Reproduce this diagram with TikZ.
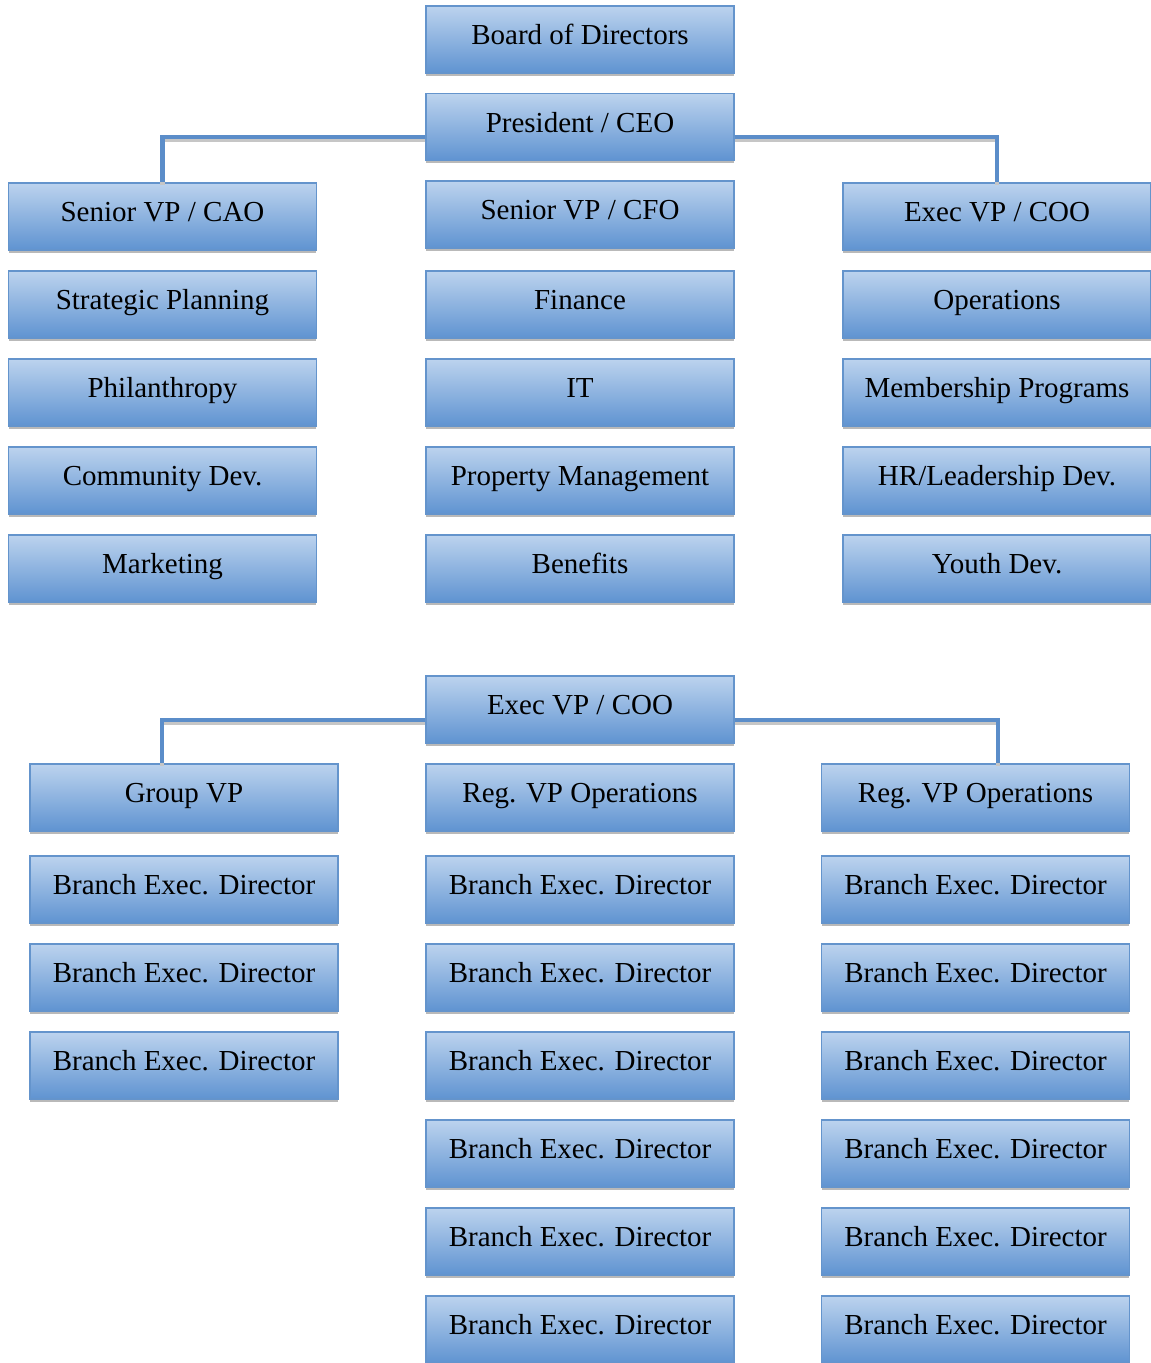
\documentclass[tikz,border=0pt]{standalone}
\usepackage{fontspec}
\setmainfont{Liberation Serif}
\usepackage{tikz}
\usetikzlibrary{shadows}
\usetikzlibrary{positioning}
\definecolor{boxtop}{HTML}{BCD3EE}
\definecolor{boxmid}{HTML}{9FBFE4}
\definecolor{boxbot}{HTML}{5F93D1}
\definecolor{boxline}{HTML}{6494CC}
\definecolor{linkblue}{HTML}{5B8DC9}
\tikzset{unit/.style={draw=boxline,line width=0.8pt,top color=boxtop,middle color=boxmid,bottom color=boxbot,minimum width=6.16cm,minimum height=1.34cm,inner sep=0pt,text height=7pt,text depth=1.2pt,font=\fontsize{16.5}{19}\selectfont,drop shadow={shadow xshift=0pt,shadow yshift=-0.06cm,fill=gray!55,opacity=1}},
link/.style={draw=linkblue,line width=2.4pt,preaction={draw=gray!45,line width=2.4pt,transform canvas={yshift=-1.4pt}}}}

\begin{document}
\begin{tikzpicture}[x=0.02cm,y=-0.02cm]
\useasboundingbox (0,0) rectangle (1151,1363);

\node (board) [unit] at (580,39.5) {Board of Directors};
\node (ceo) [unit, below of=board, node distance=1.75cm] {President / CEO};

\node (cao) [unit] at (162.5,216.5) {Senior VP / CAO};
\node (plan) [unit, below of=cao, node distance=1.76cm] {Strategic Planning};
\node (phil) [unit, below of=plan, node distance=1.76cm] {Philanthropy};
\node (comm) [unit, below of=phil, node distance=1.76cm] {Community Dev.};
\node (mkt) [unit, below of=comm, node distance=1.76cm] {Marketing};

\node (cfo) [unit] at (580,214.5) {Senior VP / CFO};
\node (fin) [unit, below of=cfo, node distance=1.8cm] {Finance};
\node (it) [unit, below of=fin, node distance=1.76cm] {IT};
\node (prop) [unit, below of=it, node distance=1.76cm] {Property Management};
\node (ben) [unit, below of=prop, node distance=1.76cm] {Benefits};

\node (coo) [unit] at (997,216.5) {Exec VP / COO};
\node (ops) [unit, below of=coo, node distance=1.76cm] {Operations};
\node (memb) [unit, below of=ops, node distance=1.76cm] {Membership Programs};
\node (hr) [unit, below of=memb, node distance=1.76cm] {HR/Leadership Dev.};
\node (youth) [unit, below of=hr, node distance=1.76cm] {Youth Dev.};

\draw[link] ([yshift=-0.2cm]ceo.west) -| (cao.north);
\draw[link] ([yshift=-0.2cm]ceo.east) -| (coo.north);

\node (coob) [unit] at (580,709.5) {Exec VP / COO};
\node (gvp) [unit] at (184,797.5) {Group VP};
\node (rvpa) [unit] at (580,797.5) {Reg. VP Operations};
\node (rvpb) [unit] at (975.5,797.5) {Reg. VP Operations};

\foreach \i in {1,2,3}
  \node (lb\i) [unit] at (184,{889.5+88*(\i-1)}) {Branch Exec. Director};
\foreach \i in {1,...,6}
  \node (cb\i) [unit] at (580,{889.5+88*(\i-1)}) {Branch Exec. Director};
\foreach \i in {1,...,6}
  \node (rb\i) [unit] at (975.5,{889.5+88*(\i-1)}) {Branch Exec. Director};

\draw[link] ([yshift=-0.21cm]coob.west) -| ([xshift=-0.44cm]gvp.north);
\draw[link] ([yshift=-0.21cm]coob.east) -| ([xshift=0.45cm]rvpb.north);
\end{tikzpicture}
\end{document}
